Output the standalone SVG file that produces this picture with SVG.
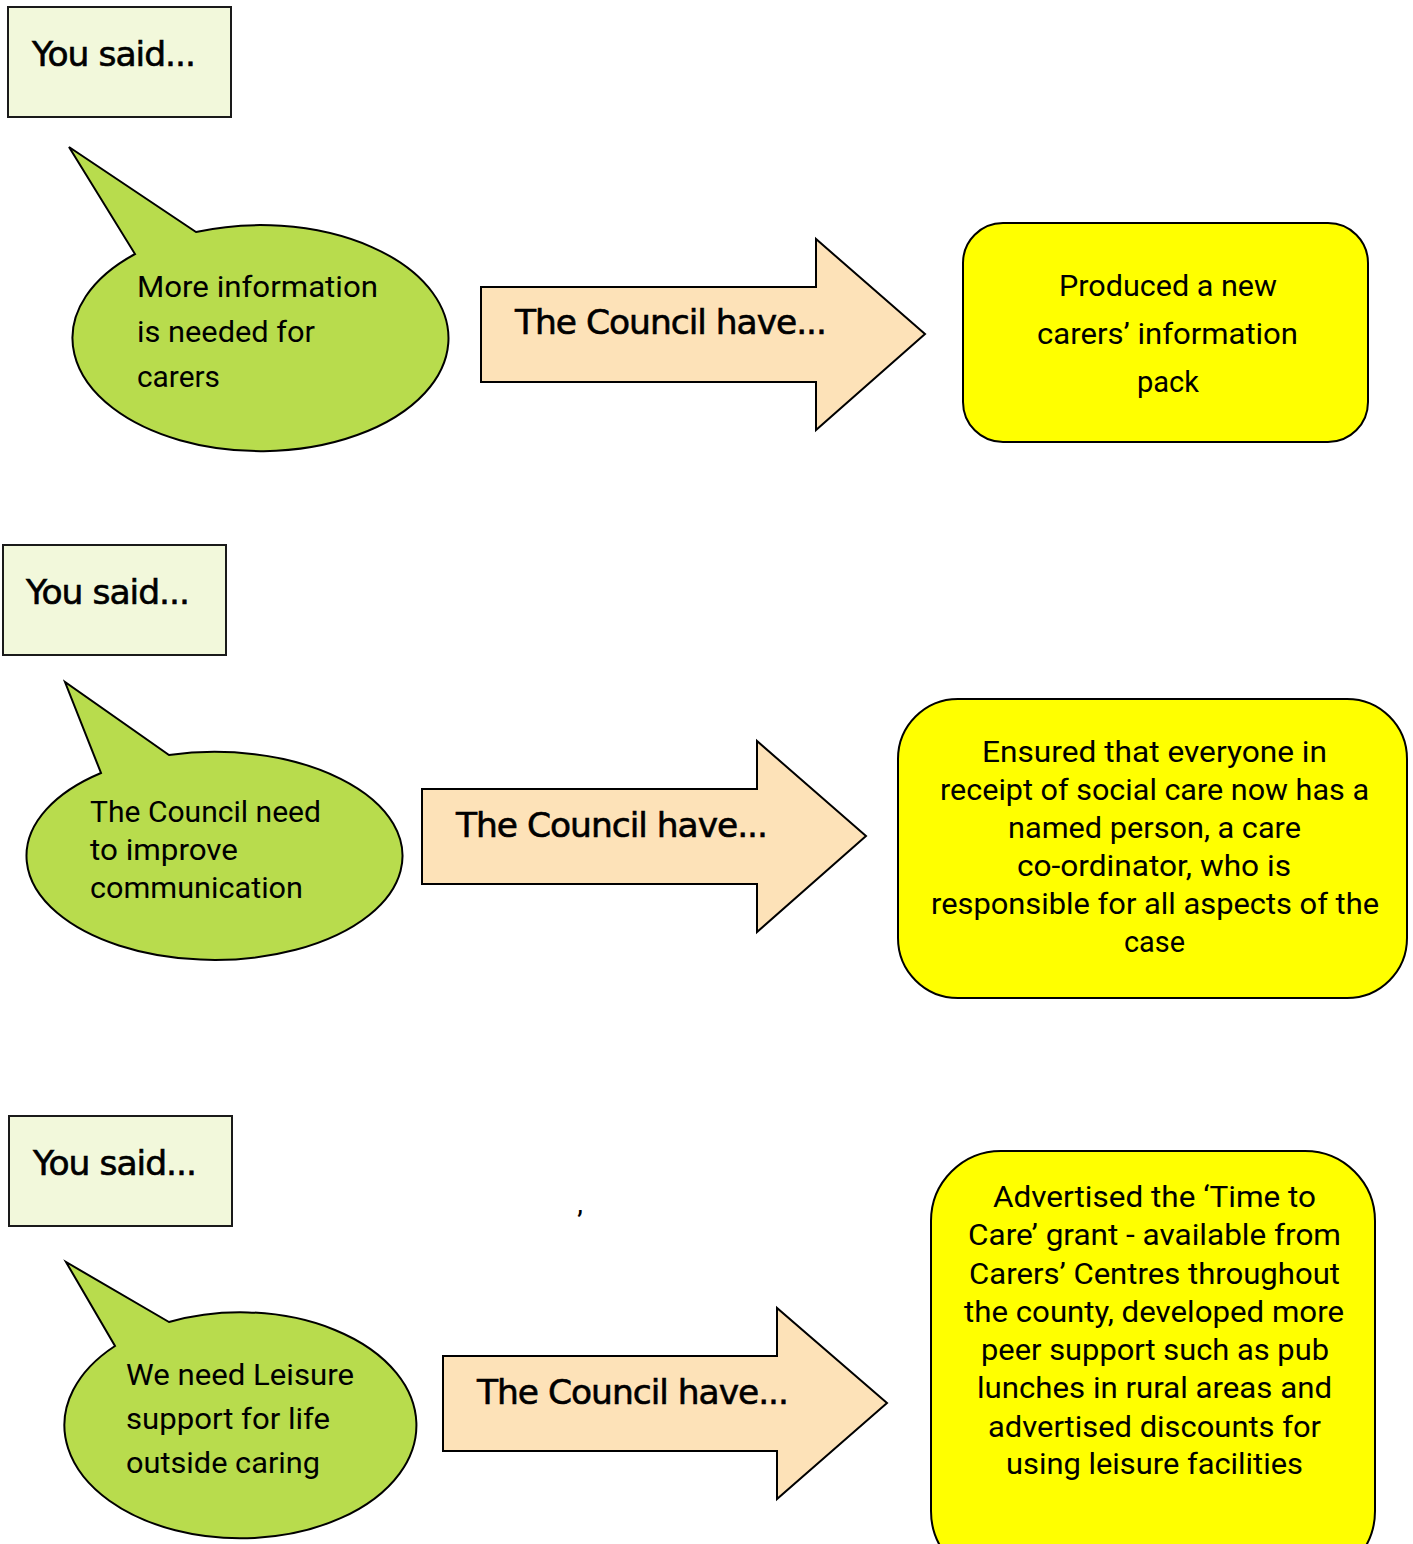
<svg xmlns="http://www.w3.org/2000/svg" width="1413" height="1544" viewBox="0 0 1413 1544">
<style>
.said{fill:#f2f8db;stroke:#1a1a1a;stroke-width:2}
.bub{fill:#b8dc4d;stroke:#000;stroke-width:2}
.arr{fill:#fde2b8;stroke:#000;stroke-width:2}
.res{fill:#ffff00;stroke:#000;stroke-width:2}
.h{font-family:"DejaVu Sans",sans-serif;font-size:34px;fill:#000;stroke:#000;stroke-width:0.6;letter-spacing:-1px}
.t{font-family:Roboto,"Noto Sans",sans-serif;font-size:29px;fill:#000}
</style>
<rect width="1413" height="1544" fill="#fff"/>

<g id="said1"><rect class="said" x="8" y="7" width="223" height="110"/><text class="h" x="32" y="66" textLength="163" lengthAdjust="spacingAndGlyphs">You said...</text></g>
<g id="bubble1"><path class="bub" d="M196,232 A188,113 0 1 1 135,254 L69,147 Z"/>
<text class="t" x="137" y="297" textLength="241" lengthAdjust="spacingAndGlyphs">More information</text>
<text class="t" x="137" y="342" textLength="178" lengthAdjust="spacingAndGlyphs">is needed for</text>
<text class="t" x="137" y="387" textLength="83" lengthAdjust="spacingAndGlyphs">carers</text></g>
<g id="connectors">
<g id="arrow1"><polygon class="arr" points="481,287 816,287 816,239 925,334 816,430 816,382 481,382"/><text class="h" x="515" y="334" textLength="311" lengthAdjust="spacingAndGlyphs">The Council have...</text></g>
<g id="arrow2"><polygon class="arr" points="422,789 757,789 757,741 866,836 757,932 757,884 422,884"/><text class="h" x="456" y="837" textLength="311" lengthAdjust="spacingAndGlyphs">The Council have...</text></g>
<g id="arrow3"><polygon class="arr" points="443,1356 777,1356 777,1308 887,1403 777,1499 777,1451 443,1451"/><text class="h" x="477" y="1404" textLength="311" lengthAdjust="spacingAndGlyphs">The Council have...</text></g>
</g>
<g id="result1"><rect class="res" x="963" y="223" width="405" height="219" rx="40"/>
<text class="t" x="1059" y="296" textLength="218" lengthAdjust="spacingAndGlyphs">Produced a new</text>
<text class="t" x="1037" y="344" textLength="261" lengthAdjust="spacingAndGlyphs">carers’ information</text>
<text class="t" x="1137" y="392" textLength="62" lengthAdjust="spacingAndGlyphs">pack</text></g>

<g id="said2"><rect class="said" x="3" y="545" width="223" height="110"/><text class="h" x="26" y="604" textLength="163" lengthAdjust="spacingAndGlyphs">You said...</text></g>
<g id="bubble2"><path class="bub" d="M169,755 A188,104 0 1 1 101,773 L65,682 Z"/>
<text class="t" x="90" y="822" textLength="231" lengthAdjust="spacingAndGlyphs">The Council need</text>
<text class="t" x="90" y="860" textLength="148" lengthAdjust="spacingAndGlyphs">to improve</text>
<text class="t" x="90" y="898" textLength="213" lengthAdjust="spacingAndGlyphs">communication</text></g>
<g id="result2"><rect class="res" x="898" y="699" width="509" height="299" rx="60"/>
<text class="t" x="982" y="762" textLength="345" lengthAdjust="spacingAndGlyphs">Ensured that everyone in</text>
<text class="t" x="940" y="800" textLength="429" lengthAdjust="spacingAndGlyphs">receipt of social care now has a</text>
<text class="t" x="1008" y="838" textLength="293" lengthAdjust="spacingAndGlyphs">named person, a care</text>
<text class="t" x="1017" y="876" textLength="274" lengthAdjust="spacingAndGlyphs">co-ordinator, who is</text>
<text class="t" x="931" y="914" textLength="448" lengthAdjust="spacingAndGlyphs">responsible for all aspects of the</text>
<text class="t" x="1124" y="952" textLength="61" lengthAdjust="spacingAndGlyphs">case</text></g>

<g id="said3"><rect class="said" x="9" y="1116" width="223" height="110"/><text class="h" x="33" y="1175" textLength="163" lengthAdjust="spacingAndGlyphs">You said...</text></g>
<g id="bubble3"><path class="bub" d="M169,1322 A176,113 0 1 1 115,1346 L66,1262 Z"/>
<text class="t" x="126" y="1385" textLength="228" lengthAdjust="spacingAndGlyphs">We need Leisure</text>
<text class="t" x="126" y="1429" textLength="204" lengthAdjust="spacingAndGlyphs">support for life</text>
<text class="t" x="126" y="1473" textLength="194" lengthAdjust="spacingAndGlyphs">outside caring</text></g>
<text class="t" x="577" y="1232" font-size="20">’</text>
<g id="result3"><rect class="res" x="931" y="1151" width="444" height="430" rx="70"/>
<text class="t" x="993" y="1207" textLength="323" lengthAdjust="spacingAndGlyphs">Advertised the ‘Time to</text>
<text class="t" x="968" y="1245" textLength="373" lengthAdjust="spacingAndGlyphs">Care’ grant - available from</text>
<text class="t" x="969" y="1284" textLength="371" lengthAdjust="spacingAndGlyphs">Carers’ Centres throughout</text>
<text class="t" x="964" y="1322" textLength="380" lengthAdjust="spacingAndGlyphs">the county, developed more</text>
<text class="t" x="981" y="1360" textLength="348" lengthAdjust="spacingAndGlyphs">peer support such as pub</text>
<text class="t" x="977" y="1398" textLength="355" lengthAdjust="spacingAndGlyphs">lunches in rural areas and</text>
<text class="t" x="988" y="1437" textLength="333" lengthAdjust="spacingAndGlyphs">advertised discounts for</text>
<text class="t" x="1006" y="1474" textLength="297" lengthAdjust="spacingAndGlyphs">using leisure facilities</text></g>
</svg>
